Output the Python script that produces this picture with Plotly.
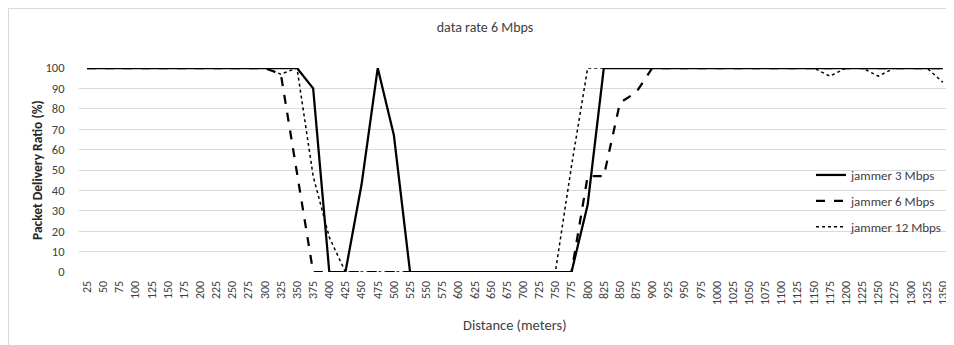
import plotly.graph_objects as go

distance = ["25", "50", "75", "100", "125", "150", "175", "200", "225", "250",
            "275", "300", "325", "350", "375", "400", "425", "450", "475", "500",
            "525", "550", "575", "600", "625", "650", "675", "700", "725", "750",
            "775", "800", "825", "850", "875", "900", "925", "950", "975", "1000",
            "1025", "1050", "1075", "1100", "1125", "1150", "1175", "1200", "1225", "1250",
            "1275", "1300", "1325", "1350"]

jammer_3 = [100, 100, 100, 100, 100, 100, 100, 100, 100, 100,
            100, 100, 100, 100, 90, 0, 0, 43, 100, 67,
            0, 0, 0, 0, 0, 0, 0, 0, 0, 0,
            0, 33, 100, 100, 100, 100, 100, 100, 100, 100,
            100, 100, 100, 100, 100, 100, 100, 100, 100, 100,
            100, 100, 100, 100]

jammer_6 = [100, 100, 100, 100, 100, 100, 100, 100, 100, 100,
            100, 100, 97, 48, 0, 0, 0, 0, 0, 0,
            0, 0, 0, 0, 0, 0, 0, 0, 0, 0,
            0, 47, 47, 83, 88, 100, 100, 100, 100, 100,
            100, 100, 100, 100, 100, 100, 100, 100, 100, 100,
            100, 100, 100, 100]

jammer_12 = [100, 100, 100, 100, 100, 100, 100, 100, 100, 100,
             100, 100, 97, 100, 47, 17, 0, 0, 0, 0,
             0, 0, 0, 0, 0, 0, 0, 0, 0, 0,
             52, 100, 100, 100, 100, 100, 100, 100, 100, 100,
             100, 100, 100, 100, 100, 100, 96, 100, 100, 96,
             100, 100, 100, 93]

y_ticks = [0, 10, 20, 30, 40, 50, 60, 70, 80, 90, 100]

FONT = "Carlito, Lato, sans-serif"
# the page adds an 8px body margin, so the figure is sized/offset accordingly
W, H = 946, 337
ML, MR, MT, MB = 71, 3, 60, 73
PW = W - ML - MR
PH = H - MT - MB
OFF = 8


def px_x(px):  # reference page pixel -> paper x
    return (px - OFF - ML) / PW


def px_y(py):  # reference page pixel -> paper y
    return (H - MB - (py - OFF)) / PH


fig = go.Figure()
fig.add_trace(go.Scatter(x=distance, y=jammer_3, mode="lines", name="jammer 3 Mbps",
                         legendgroup="a", line=dict(color="black", width=2.25)))
fig.add_trace(go.Scatter(x=distance, y=jammer_6, mode="lines", name="jammer 6 Mbps",
                         legendgroup="b", line=dict(color="black", width=2.25, dash="dash")))
fig.add_trace(go.Scatter(x=distance, y=jammer_12, mode="lines", name="jammer 12 Mbps",
                         legendgroup="c", line=dict(color="black", width=1.5, dash="dot")))

fig.update_layout(
    width=W, height=H,
    margin=dict(l=ML, r=MR, t=MT, b=MB, autoexpand=False),
    paper_bgcolor="white", plot_bgcolor="white",
    font=dict(family=FONT, size=12, color="#404040"),
    title=dict(text="data rate 6 Mbps", x=(485 - OFF) / W, xref="container", xanchor="center",
               y=1 - (27 - OFF) / H, yref="container", yanchor="middle",
               font=dict(family=FONT, size=14, color="#404040")),
    showlegend=True,
    legend=dict(x=px_x(811), y=px_y(160), xanchor="left", yanchor="top",
                bgcolor="rgba(0,0,0,0)", tracegroupgap=6,
                font=dict(family=FONT, size=13, color="#404040")),
    xaxis=dict(type="category", categoryorder="array", categoryarray=distance,
               range=[-0.5, len(distance) - 0.5], tickangle=-90,
               showgrid=False, showline=False, zeroline=False,
               ticks="outside", ticklen=3, tickcolor="rgba(0,0,0,0)",
               tickfont=dict(family=FONT, size=12, color="#404040")),
    yaxis=dict(range=[0, 100], tickvals=y_ticks, showgrid=True, gridcolor="#d9d9d9",
               gridwidth=1, zeroline=False, showline=False,
               ticks="outside", ticklen=11, tickcolor="rgba(0,0,0,0)",
               tickfont=dict(family=FONT, size=12.5, color="#404040")),
    annotations=[
        dict(text="Distance (meters)", xref="paper", yref="paper",
             x=px_x(515), y=px_y(325), xanchor="center", yanchor="middle",
             showarrow=False, font=dict(family=FONT, size=14.5, color="#404040")),
        dict(text="<b>Packet Delivery Ratio (%)</b>", xref="paper", yref="paper",
             x=px_x(37), y=px_y(170), xanchor="center", yanchor="middle", textangle=-90,
             showarrow=False, font=dict(family=FONT, size=13.5, color="#262626")),
    ],
    shapes=[dict(type="rect", xref="paper", yref="paper",
                 x0=(0.5 - ML) / PW, x1=px_x(970), y0=px_y(360), y1=px_y(8.5),
                 line=dict(color="#d9d9d9", width=1), layer="below")],
)

fig.write_html("out.html")
